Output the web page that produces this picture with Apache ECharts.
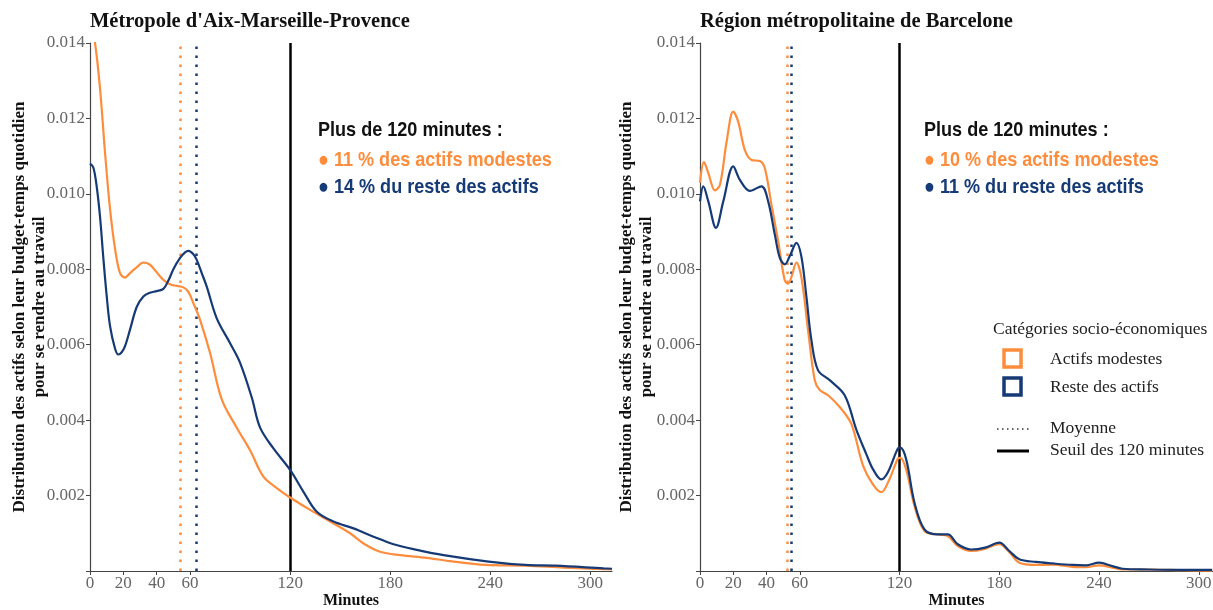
<!DOCTYPE html>
<html>
<head>
<meta charset="utf-8">
<script src="https://cdn.jsdelivr.net/npm/echarts@6/dist/echarts.min.js"></script>
<style>html,body{margin:0;padding:0;background:#fff;}#c{width:1213px;height:610px;}</style>
</head>
<body>
<div id="c"></div>
<script>
// ---- Data ----
const panelTitles = ["Métropole d'Aix-Marseille-Provence", "Région métropolitaine de Barcelone"];
const seriesNames = ["Actifs modestes", "Reste des actifs"];
const xTicks = [0, 20, 40, 60, 120, 180, 240, 300];
const yTicks = [0.002, 0.004, 0.006, 0.008, 0.010, 0.012, 0.014];

// Aix-Marseille-Provence
const aixModX = [0, 3, 6, 9, 12, 15, 18, 21, 24, 28, 32, 36, 40, 44, 48, 52, 56, 59, 62, 66, 72, 79, 88, 96, 104, 112, 120, 132, 144, 156, 164, 174, 186, 202, 216, 237, 261, 284, 308, 313];
const aixModY = [0.0146, 0.0140, 0.0128, 0.0111, 0.0096, 0.00855, 0.0079, 0.00778, 0.0079, 0.00805, 0.00818, 0.00812, 0.00792, 0.00772, 0.0076, 0.00756, 0.00752, 0.0074, 0.0071, 0.00666, 0.00578, 0.00455, 0.0038, 0.0032, 0.0025, 0.0022, 0.00195, 0.00162, 0.00131, 0.0010, 0.00073, 0.00051, 0.00042, 0.00035, 0.00026, 0.00016, 0.00014, 0.00009, 0.00005, 0.00004];
const aixRestX = [0, 2, 4, 6, 8, 10, 12, 15, 17, 19, 21, 24, 28, 32, 36, 40, 44, 47, 50, 54, 57, 59, 62, 64, 67, 70, 76, 84, 90, 97, 102, 110, 120, 128, 136, 146, 158, 170, 182, 196, 212, 239, 261, 279, 308, 313];
const aixRestY = [0.0108, 0.0107, 0.0102, 0.0094, 0.0083, 0.0073, 0.0065, 0.0059, 0.00574, 0.0058, 0.00596, 0.0064, 0.0070, 0.00728, 0.00738, 0.00742, 0.00748, 0.0077, 0.0080, 0.0083, 0.00845, 0.00849, 0.0084, 0.00825, 0.0079, 0.00754, 0.0067, 0.00604, 0.00552, 0.0046, 0.0038, 0.00325, 0.00268, 0.0021, 0.00157, 0.00131, 0.00113, 0.00091, 0.00071, 0.00056, 0.00042, 0.00025, 0.00016, 0.00014, 0.00007, 0.00006];

// Barcelone
const bcnModX = [0, 2.4, 5, 9, 12, 16, 20, 23, 27, 31, 36, 39, 43, 47, 51, 53, 55, 58, 61, 65, 69, 72, 77, 84, 91, 98, 104, 109, 114, 119, 120.5, 124, 129, 135, 143, 149, 155, 163, 170, 180, 186, 192, 202, 212, 224, 232, 240, 248, 254, 270, 291, 308];
const bcnModY = [0.0103, 0.01084, 0.01055, 0.01009, 0.01024, 0.01138, 0.01218, 0.01191, 0.01116, 0.0109, 0.01087, 0.01068, 0.00971, 0.00875, 0.0077, 0.00762, 0.0078, 0.00818, 0.00778, 0.00638, 0.00506, 0.0048, 0.00466, 0.00435, 0.0039, 0.0028, 0.0023, 0.00209, 0.00244, 0.00298, 0.0030, 0.00269, 0.00172, 0.00106, 0.00097, 0.00093, 0.00066, 0.00053, 0.00057, 0.00071, 0.0005, 0.00022, 0.00016, 0.00017, 0.00011, 0.0001, 0.00015, 0.00009, 0.00004, 0.00004, 0.00002, 0.00001];
const bcnRestX = [0, 2, 5, 9.6, 14, 20, 24, 30, 37, 41, 45, 48, 51, 54, 58, 61, 64, 67, 71, 78, 87, 94, 100, 104, 109, 113, 119, 120.5, 124, 129, 135, 143, 149, 155, 163, 171.5, 180, 186, 192, 202, 212, 224, 232, 240, 248, 254, 270, 291, 308];
const bcnRestY = [0.0098, 0.0102, 0.0098, 0.0091, 0.0098, 0.01073, 0.01037, 0.01008, 0.0102, 0.0098, 0.00892, 0.0083, 0.00813, 0.00835, 0.0087, 0.00833, 0.00727, 0.00612, 0.00532, 0.00506, 0.00466, 0.00375, 0.0031, 0.0027, 0.00243, 0.00262, 0.00325, 0.00327, 0.00296, 0.00181, 0.0011, 0.00097, 0.00097, 0.00071, 0.00057, 0.00062, 0.00075, 0.00053, 0.00031, 0.00024, 0.0002, 0.00016, 0.00015, 0.00022, 0.00013, 0.00006, 0.00004, 0.00003, 0.00003];

// Means (minutes) and threshold
const aixMeans = [54, 64];
const bcnMeans = [52.3, 54.8];
const threshold = 120;

// Annotation texts
const annHeader = "Plus de 120 minutes :";
const aixShares = ["● 11 % des actifs modestes", "● 14 % du reste des actifs"];
const bcnShares = ["● 10 % des actifs modestes", "● 11 % du reste des actifs"];
const legendTitle = "Catégories socio-économiques";
const lineLegend = ["Moyenne", "Seuil des 120 minutes"];
const yName = "Distribution des actifs selon leur budget-temps quotidien\npour se rendre au travail";
const xName = "Minutes";

// ---- Styling ----
const ORANGE = '#FD8D3C';
const BLUE = '#163A75';
const SERIF = "'Liberation Serif', 'DejaVu Serif', serif";
const SANS = "'Liberation Sans', Arial, sans-serif";

const zip = (xs, ys) => xs.map((x, i) => [x, ys[i]]);

function xAxis(gi, max) {
  return {
    type: 'value', gridIndex: gi, min: 0, max: max,
    axisLine: {show: true, onZero: false, lineStyle: {color: '#444', width: 1.2}},
    axisTick: {show: true, customValues: xTicks, length: 4, lineStyle: {color: '#444'}},
    axisLabel: {customValues: xTicks, color: '#666', fontFamily: SERIF, fontSize: 17, margin: 4, showMaxLabel: true},
    splitLine: {show: false},
    name: xName, nameLocation: 'middle', nameGap: 22, nameMoveOverlap: false,
    nameTextStyle: {fontFamily: SERIF, fontWeight: 'bold', fontSize: 16, color: '#111'}
  };
}
function yAxis(gi, gap) {
  return {
    type: 'value', gridIndex: gi, min: 0, max: 0.014, interval: 0.002,
    axisLine: {show: true, lineStyle: {color: '#444', width: 1.2}},
    axisTick: {show: true, length: 4, lineStyle: {color: '#444'}},
    axisLabel: {color: '#666', fontFamily: SERIF, fontSize: 17, margin: 5,
      formatter: v => (yTicks.some(t => Math.abs(t - v) < 1e-9) ? v.toFixed(3) : '')},
    splitLine: {show: false},
    name: yName, nameLocation: 'middle', nameGap: gap, nameRotate: 90, nameMoveOverlap: false,
    nameTextStyle: {fontFamily: SERIF, fontWeight: 'bold', fontSize: 17, color: '#111', lineHeight: 20, align: 'center'}
  };
}
function vline(x, color, type, width) {
  return {xAxis: x, lineStyle: {color: color, type: type, width: width}};
}
function curve(name, gi, xs, ys, color, marks) {
  const s = {
    name: name, type: 'line', xAxisIndex: gi, yAxisIndex: gi,
    data: zip(xs, ys), smooth: 0.35, showSymbol: false, symbol: 'none', clip: true,
    lineStyle: {color: color, width: 2.2}, itemStyle: {color: color}, z: 3
  };
  if (marks) {
    s.markLine = {silent: true, symbol: 'none', label: {show: false}, animation: false, z: 2, data: marks};
  }
  return s;
}
function annText(x, y, text, color) {
  return {type: 'text', x: x, y: y, scaleX: 0.86, style: {text: text, font: 'bold 21px ' + SANS, fill: color, verticalAlign: 'middle'}};
}
function legText(x, y, text) {
  return {type: 'text', x: x, y: y, style: {text: text, font: '17.5px ' + SERIF, fill: '#222', verticalAlign: 'middle'}};
}

const chart = echarts.init(document.getElementById('c'), null, {renderer: 'canvas'});
const option = {
  animation: false,
  backgroundColor: '#fff',
  title: [
    {text: panelTitles[0], left: 90, top: 11, padding: 0, textStyle: {fontFamily: SERIF, fontWeight: 'bold', fontSize: 20.5, color: '#111'}},
    {text: panelTitles[1], left: 700, top: 11, padding: 0, textStyle: {fontFamily: SERIF, fontWeight: 'bold', fontSize: 20.5, color: '#111'}}
  ],
  grid: [
    {left: 90, top: 43, width: 522, height: 528, outerBoundsMode: 'none', containLabel: false},
    {left: 700, top: 43, width: 513, height: 528, outerBoundsMode: 'none', containLabel: false}
  ],
  xAxis: [xAxis(0, 313), xAxis(1, 308.5)],
  yAxis: [yAxis(0, 40), yAxis(1, 43)],
  series: [
    curve(seriesNames[0], 0, aixModX, aixModY, ORANGE, [vline(aixMeans[0], ORANGE, [2.5, 6.5], 2.5)]),
    curve(seriesNames[1], 0, aixRestX, aixRestY, BLUE, [vline(aixMeans[1], BLUE, [2.5, 6.5], 2.5), vline(threshold, '#000', 'solid', 2.5)]),
    curve(seriesNames[0], 1, bcnModX, bcnModY, ORANGE, [vline(bcnMeans[0], ORANGE, [2.5, 6.5], 2.5)]),
    curve(seriesNames[1], 1, bcnRestX, bcnRestY, BLUE, [vline(bcnMeans[1], BLUE, [2.5, 6.5], 2.5), vline(threshold, '#000', 'solid', 2.5)])
  ],
  graphic: [
    annText(318, 130, annHeader, '#111'),
    annText(318, 160, aixShares[0], ORANGE),
    annText(318, 187, aixShares[1], BLUE),
    annText(924, 130, annHeader, '#111'),
    annText(924, 160, bcnShares[0], ORANGE),
    annText(924, 187, bcnShares[1], BLUE),
    // legend
    legText(993, 329, legendTitle),
    {type: 'rect', shape: {x: 1004, y: 350, width: 17, height: 17}, style: {fill: '#fff', stroke: ORANGE, lineWidth: 3.5}},
    {type: 'rect', shape: {x: 1004, y: 378, width: 17, height: 17}, style: {fill: '#fff', stroke: BLUE, lineWidth: 3.5}},
    legText(1050, 359, seriesNames[0]),
    legText(1050, 387, seriesNames[1]),
    {type: 'line', shape: {x1: 997, y1: 429, x2: 1029, y2: 429}, style: {stroke: '#333', lineWidth: 1.5, lineDash: [1.5, 3.5]}},
    {type: 'line', shape: {x1: 997, y1: 451, x2: 1029, y2: 451}, style: {stroke: '#000', lineWidth: 3}},
    legText(1050, 428, lineLegend[0]),
    legText(1050, 450, lineLegend[1])
  ]
};
chart.setOption(option);
</script>
</body>
</html>
